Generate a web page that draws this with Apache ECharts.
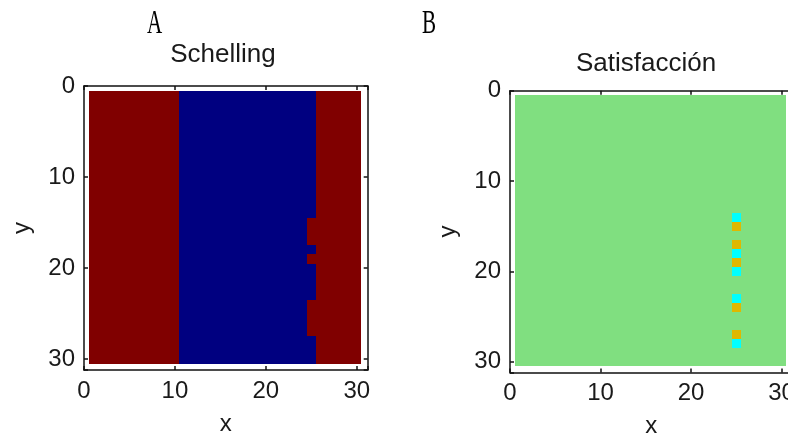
<!DOCTYPE html>
<html><head><meta charset="utf-8">
<script src="https://cdn.jsdelivr.net/npm/echarts@6/dist/echarts.min.js"></script>
<style>html,body{margin:0;padding:0;background:#fff}#c{width:788px;height:438px}</style>
</head><body><div id="c"></div>
<script>
// ---- data ----
const panelLetters = ['A', 'B'];
const panelTitles = ['Schelling', 'Satisfacción'];
const tickValues = [0, 10, 20, 30];
const xAxisName = 'x';
const yAxisName = 'y';
// one string per grid row (row 1 at top), one character per column (1..30)
// R = red agent, B = blue agent
const schellingRows = [
  'RRRRRRRRRRBBBBBBBBBBBBBBBRRRRR', // 1
  'RRRRRRRRRRBBBBBBBBBBBBBBBRRRRR', // 2
  'RRRRRRRRRRBBBBBBBBBBBBBBBRRRRR', // 3
  'RRRRRRRRRRBBBBBBBBBBBBBBBRRRRR', // 4
  'RRRRRRRRRRBBBBBBBBBBBBBBBRRRRR', // 5
  'RRRRRRRRRRBBBBBBBBBBBBBBBRRRRR', // 6
  'RRRRRRRRRRBBBBBBBBBBBBBBBRRRRR', // 7
  'RRRRRRRRRRBBBBBBBBBBBBBBBRRRRR', // 8
  'RRRRRRRRRRBBBBBBBBBBBBBBBRRRRR', // 9
  'RRRRRRRRRRBBBBBBBBBBBBBBBRRRRR', // 10
  'RRRRRRRRRRBBBBBBBBBBBBBBBRRRRR', // 11
  'RRRRRRRRRRBBBBBBBBBBBBBBBRRRRR', // 12
  'RRRRRRRRRRBBBBBBBBBBBBBBBRRRRR', // 13
  'RRRRRRRRRRBBBBBBBBBBBBBBBRRRRR', // 14
  'RRRRRRRRRRBBBBBBBBBBBBBBRRRRRR', // 15
  'RRRRRRRRRRBBBBBBBBBBBBBBRRRRRR', // 16
  'RRRRRRRRRRBBBBBBBBBBBBBBRRRRRR', // 17
  'RRRRRRRRRRBBBBBBBBBBBBBBBRRRRR', // 18
  'RRRRRRRRRRBBBBBBBBBBBBBBRRRRRR', // 19
  'RRRRRRRRRRBBBBBBBBBBBBBBBRRRRR', // 20
  'RRRRRRRRRRBBBBBBBBBBBBBBBRRRRR', // 21
  'RRRRRRRRRRBBBBBBBBBBBBBBBRRRRR', // 22
  'RRRRRRRRRRBBBBBBBBBBBBBBBRRRRR', // 23
  'RRRRRRRRRRBBBBBBBBBBBBBBRRRRRR', // 24
  'RRRRRRRRRRBBBBBBBBBBBBBBRRRRRR', // 25
  'RRRRRRRRRRBBBBBBBBBBBBBBRRRRRR', // 26
  'RRRRRRRRRRBBBBBBBBBBBBBBRRRRRR', // 27
  'RRRRRRRRRRBBBBBBBBBBBBBBBRRRRR', // 28
  'RRRRRRRRRRBBBBBBBBBBBBBBBRRRRR', // 29
  'RRRRRRRRRRBBBBBBBBBBBBBBBRRRRR'  // 30
];
// G = satisfied, C = unsatisfied blue, Y = unsatisfied red
const satisfaccionRows = [
  'GGGGGGGGGGGGGGGGGGGGGGGGGGGGGG', // 1
  'GGGGGGGGGGGGGGGGGGGGGGGGGGGGGG', // 2
  'GGGGGGGGGGGGGGGGGGGGGGGGGGGGGG', // 3
  'GGGGGGGGGGGGGGGGGGGGGGGGGGGGGG', // 4
  'GGGGGGGGGGGGGGGGGGGGGGGGGGGGGG', // 5
  'GGGGGGGGGGGGGGGGGGGGGGGGGGGGGG', // 6
  'GGGGGGGGGGGGGGGGGGGGGGGGGGGGGG', // 7
  'GGGGGGGGGGGGGGGGGGGGGGGGGGGGGG', // 8
  'GGGGGGGGGGGGGGGGGGGGGGGGGGGGGG', // 9
  'GGGGGGGGGGGGGGGGGGGGGGGGGGGGGG', // 10
  'GGGGGGGGGGGGGGGGGGGGGGGGGGGGGG', // 11
  'GGGGGGGGGGGGGGGGGGGGGGGGGGGGGG', // 12
  'GGGGGGGGGGGGGGGGGGGGGGGGGGGGGG', // 13
  'GGGGGGGGGGGGGGGGGGGGGGGGCGGGGG', // 14
  'GGGGGGGGGGGGGGGGGGGGGGGGYGGGGG', // 15
  'GGGGGGGGGGGGGGGGGGGGGGGGGGGGGG', // 16
  'GGGGGGGGGGGGGGGGGGGGGGGGYGGGGG', // 17
  'GGGGGGGGGGGGGGGGGGGGGGGGCGGGGG', // 18
  'GGGGGGGGGGGGGGGGGGGGGGGGYGGGGG', // 19
  'GGGGGGGGGGGGGGGGGGGGGGGGCGGGGG', // 20
  'GGGGGGGGGGGGGGGGGGGGGGGGGGGGGG', // 21
  'GGGGGGGGGGGGGGGGGGGGGGGGGGGGGG', // 22
  'GGGGGGGGGGGGGGGGGGGGGGGGCGGGGG', // 23
  'GGGGGGGGGGGGGGGGGGGGGGGGYGGGGG', // 24
  'GGGGGGGGGGGGGGGGGGGGGGGGGGGGGG', // 25
  'GGGGGGGGGGGGGGGGGGGGGGGGGGGGGG', // 26
  'GGGGGGGGGGGGGGGGGGGGGGGGYGGGGG', // 27
  'GGGGGGGGGGGGGGGGGGGGGGGGCGGGGG', // 28
  'GGGGGGGGGGGGGGGGGGGGGGGGGGGGGG', // 29
  'GGGGGGGGGGGGGGGGGGGGGGGGGGGGGG'  // 30
];

// ---- styling ----
const cellColors = { R: '#800000', B: '#000080', G: '#80df80', C: '#00ffff', Y: '#dfb800' };
const grids = [
  { left: 84, top: 86, width: 283.7, height: 284 },
  { left: 510, top: 90.7, width: 282.4, height: 281.7 }
];
const AXIS_MAX = 31.2;
const tickFont = 'Liberation Sans, Arial, sans-serif';
const inkColor = '#1a1a1a';

function rowsToData(rows) {
  const out = [];
  rows.forEach((row, ri) => {
    for (let ci = 0; ci < row.length; ci++) {
      out.push({ value: [ci + 1, ri + 1], itemStyle: { color: cellColors[row[ci]] } });
    }
  });
  return out;
}

function renderCell(params, api) {
  const x = api.value(0), y = api.value(1);
  const p1 = api.coord([x - 0.5, y - 0.5]);
  const p2 = api.coord([x + 0.5, y + 0.5]);
  const x0 = Math.round(Math.min(p1[0], p2[0])), x1 = Math.round(Math.max(p1[0], p2[0]));
  const y0 = Math.round(Math.min(p1[1], p2[1])), y1 = Math.round(Math.max(p1[1], p2[1]));
  return {
    type: 'rect',
    shape: { x: x0, y: y0, width: x1 - x0, height: y1 - y0 },
    style: { fill: api.visual('color'), stroke: null, lineWidth: 0 }
  };
}

const axisLineStyle = { color: '#111', width: 1.5 };
function labelFmt(v) { return tickValues.indexOf(v) >= 0 ? String(v) : ''; }

const xAxes = [], yAxes = [];
grids.forEach((g, i) => {
  xAxes.push({
    gridIndex: i, type: 'value', min: 0, max: AXIS_MAX, interval: 10, position: 'bottom',
    name: xAxisName, nameLocation: 'middle', nameGap: 42,
    nameTextStyle: { fontSize: 24, fontFamily: tickFont, color: inkColor },
    axisLine: { onZero: false, lineStyle: axisLineStyle },
    axisTick: { inside: true, length: 4, lineStyle: axisLineStyle },
    axisLabel: { margin: 9, fontSize: 24, fontFamily: tickFont, color: inkColor, formatter: labelFmt },
    splitLine: { show: false }
  });
  xAxes.push({
    gridIndex: i, type: 'value', min: 0, max: AXIS_MAX, interval: 10, position: 'top',
    axisLine: { onZero: false, lineStyle: axisLineStyle },
    axisTick: { inside: true, length: 4, lineStyle: axisLineStyle },
    axisLabel: { show: false }, splitLine: { show: false }
  });
  yAxes.push({
    gridIndex: i, type: 'value', min: 0, max: AXIS_MAX, interval: 10, inverse: true, position: 'left',
    name: yAxisName, nameLocation: 'middle', nameGap: 50,
    nameTextStyle: { fontSize: 24, fontFamily: tickFont, color: inkColor },
    axisLine: { onZero: false, lineStyle: axisLineStyle },
    axisTick: { inside: true, length: 4, lineStyle: axisLineStyle },
    axisLabel: { margin: 9, fontSize: 24, fontFamily: tickFont, color: inkColor, formatter: labelFmt },
    splitLine: { show: false }
  });
  yAxes.push({
    gridIndex: i, type: 'value', min: 0, max: AXIS_MAX, interval: 10, inverse: true, position: 'right',
    axisLine: { onZero: false, lineStyle: axisLineStyle },
    axisTick: { inside: true, length: 4, lineStyle: axisLineStyle },
    axisLabel: { show: false }, splitLine: { show: false }
  });
});

const panelData = [rowsToData(schellingRows), rowsToData(satisfaccionRows)];
const series = panelData.map((d, i) => ({
  type: 'custom', name: panelTitles[i], xAxisIndex: i * 2, yAxisIndex: i * 2,
  renderItem: renderCell, data: d, silent: true, animation: false
}));

const letterPos = [{ x: 154.5, y: 7 }, { x: 429, y: 7 }];
const titlePos = [{ x: 223, y: 42 }, { x: 646, y: 51 }];
const graphics = [];
panelLetters.forEach((t, i) => graphics.push({
  type: 'text', x: letterPos[i].x, y: letterPos[i].y, scaleX: 0.62, silent: true,
  style: { text: t, font: '34px "Liberation Serif", "Times New Roman", serif', fill: '#000',
           align: 'center', verticalAlign: 'top', textAlign: 'center', textVerticalAlign: 'top' }
}));
panelTitles.forEach((t, i) => graphics.push({
  type: 'text', x: titlePos[i].x, y: titlePos[i].y, silent: true,
  style: { text: t, font: '26px "Liberation Sans", Arial, sans-serif', fill: inkColor,
           align: 'center', verticalAlign: 'top', textAlign: 'center', textVerticalAlign: 'top' }
}));

const chart = echarts.init(document.getElementById('c'), null, { renderer: 'canvas' });
chart.setOption({
  animation: false,
  backgroundColor: '#ffffff',
  grid: grids.map(g => Object.assign({ containLabel: false, outerBoundsMode: 'none' }, g)),
  xAxis: xAxes,
  yAxis: yAxes,
  series: series,
  graphic: graphics
});
</script></body></html>
